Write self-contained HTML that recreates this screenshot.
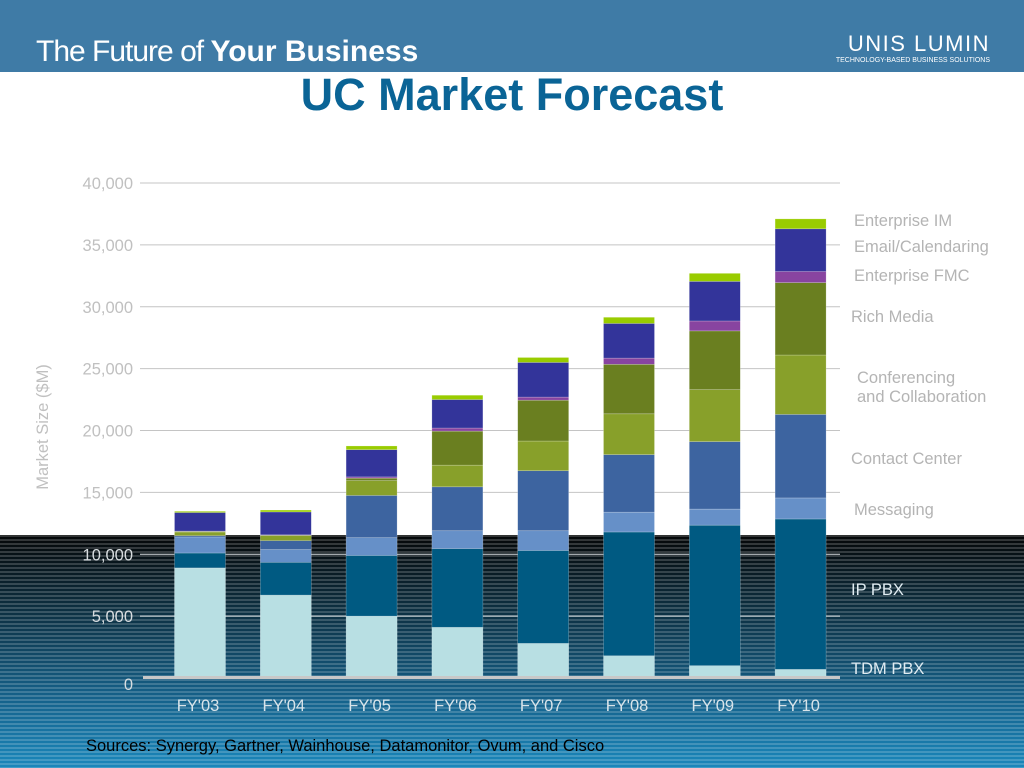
<!DOCTYPE html>
<html><head><meta charset="utf-8"><style>
html,body{margin:0;padding:0;width:1024px;height:768px;overflow:hidden;background:#fff;font-family:"Liberation Sans",sans-serif}
#hdr{position:absolute;left:0;top:0;width:1024px;height:72px;background:#3f7ba6}
#dark{position:absolute;left:0;top:535px;width:1024px;height:233px;
background:repeating-linear-gradient(to bottom,rgba(255,255,255,0.18) 0 2px,rgba(0,0,0,0) 2px 4px),linear-gradient(to bottom,#050708 0%,#0d3346 35%,#15618a 70%,#1a87bb 100%)}
svg{position:absolute;left:0;top:0}
</style></head><body>
<div id="hdr"></div>
<div id="dark"></div>
<svg width="1024" height="768" id="chart">
<text x="36" y="61" font-size="30" fill="#fff"><tspan font-weight="300" letter-spacing="-1">The Future of </tspan><tspan font-weight="bold">Your Business</tspan></text>
<text x="990" y="51" font-size="22" fill="#fff" text-anchor="end" letter-spacing="1.5">UNIS LUMIN</text>
<text x="990" y="62" font-size="7" fill="#fff" text-anchor="end">TECHNOLOGY-BASED BUSINESS SOLUTIONS</text>
<text x="512" y="110" font-size="45" font-weight="bold" fill="#0a6496" text-anchor="middle">UC Market Forecast</text>
<text transform="translate(48,427) rotate(-90)" font-size="16.5" fill="#c0c0c0" text-anchor="middle">Market Size ($M)</text>
<text x="86" y="751" font-size="16.5" fill="#000">Sources: Synergy, Gartner, Wainhouse, Datamonitor, Ovum, and Cisco</text>
<g id="grid"></g><g id="bars"></g><g id="labels"></g>
</svg>
<script>
const categories=["FY'03","FY'04","FY'05","FY'06","FY'07","FY'08","FY'09","FY'10"];
const seriesNames=["TDM PBX","IP PBX","Messaging","Contact Center","Conferencing and Collaboration","Rich Media","Enterprise FMC","Email/Calendaring","Enterprise IM"];
const tdm=[8.9,6.7,5.0,4.1,2.8,1.8,1.0,0.7];
const ipPbx=[1.2,2.65,4.9,6.35,7.5,10.0,11.35,12.15];
const messaging=[1.3,1.05,1.45,1.45,1.6,1.6,1.3,1.7];
const contactCenter=[0.1,0.7,3.4,3.55,4.85,4.65,5.45,6.75];
const conferencing=[0.3,0.4,1.2,1.75,2.4,3.3,4.2,4.8];
const richMedia=[0.05,0.05,0.2,2.75,3.3,4.0,4.75,5.85];
const fmc=[0.02,0.02,0.1,0.25,0.25,0.5,0.8,0.9];
const email=[1.5,1.85,2.2,2.3,2.8,2.8,3.2,3.45];
const im=[0.1,0.15,0.3,0.35,0.4,0.5,0.65,0.8];
const yTicks=[0,5000,10000,15000,20000,25000,30000,35000,40000];
const tickLabels=["0","5,000","10,000","15,000","20,000","25,000","30,000","35,000","40,000"];
const series=[tdm,ipPbx,messaging,contactCenter,conferencing,richMedia,fmc,email,im];
const colors=["#b8dfe3","#005a82","#6690c8","#3d64a0","#88a02a","#6a7f20","#8844a0","#33349a","#99cc00"];
const legendY=[674,595,515,464,383,322,281,252,226];
const NS="http://www.w3.org/2000/svg";
function y(v){return 678-(v/40000)*495;}
function x(i){return 200+i*85.8;}
const grid=document.getElementById('grid'),bars=document.getElementById('bars'),labels=document.getElementById('labels');
yTicks.forEach((t,i)=>{
  const yy=y(t);
  if(t>0){const l=document.createElementNS(NS,'line');
  l.setAttribute('x1',140);l.setAttribute('x2',840);l.setAttribute('y1',yy);l.setAttribute('y2',yy);
  l.setAttribute('stroke',yy>535?'#d8dde0':'#c4c4c4');l.setAttribute('stroke-width',1);
  
  
  grid.appendChild(l);}
  const tx=document.createElementNS(NS,'text');
  tx.setAttribute('x',133);tx.setAttribute('y',yy+(t===0?12:6));tx.setAttribute('text-anchor','end');
  tx.setAttribute('font-size',16.5);tx.setAttribute('fill',yy>535?'#d8dde0':'#c0c0c0');
  tx.textContent=tickLabels[i];
  
  
  labels.appendChild(tx);
});
categories.forEach((c,i)=>{
  let acc=0;
  series.forEach((s,k)=>{
    const v=s[i]*1000;
    const r=document.createElementNS(NS,'rect');
    r.setAttribute('x',x(i)-25.5);r.setAttribute('width',51);
    r.setAttribute('y',y(acc+v));r.setAttribute('height',Math.max(0,y(acc)-y(acc+v)));
    r.setAttribute('fill',colors[k]);r.setAttribute('stroke','rgba(255,255,255,0.35)');r.setAttribute('stroke-width',0.6);
    
    
    bars.appendChild(r);
    acc+=v;
  });
  const t=document.createElementNS(NS,'text');
  t.setAttribute('x',x(i)-2);t.setAttribute('y',711);t.setAttribute('text-anchor','middle');
  t.setAttribute('font-size',16.5);t.setAttribute('fill','#d8e4ea');t.textContent=c;
  
  
  labels.appendChild(t);
});
const base=document.createElementNS(NS,'rect');
base.setAttribute('x',143);base.setAttribute('y',676);base.setAttribute('width',697);base.setAttribute('height',3);base.setAttribute('fill','#c8c8c8');


labels.appendChild(base);
seriesNames.forEach((n,k)=>{
  const dark=legendY[k]>535;
  const lines=n==="Conferencing and Collaboration"?["Conferencing","and Collaboration"]:[n];
  lines.forEach((ln,j)=>{
    const t=document.createElementNS(NS,'text');
    t.setAttribute('x',k===4?857:(k===5||k===3||k===1||k===0?851:854));
    t.setAttribute('y',legendY[k]+j*19);t.setAttribute('font-size',16.5);
    t.setAttribute('fill',dark?'#e0ecf2':'#b4b4b4');t.textContent=ln;
    
    
    labels.appendChild(t);
  });
});
</script>
</body></html>
